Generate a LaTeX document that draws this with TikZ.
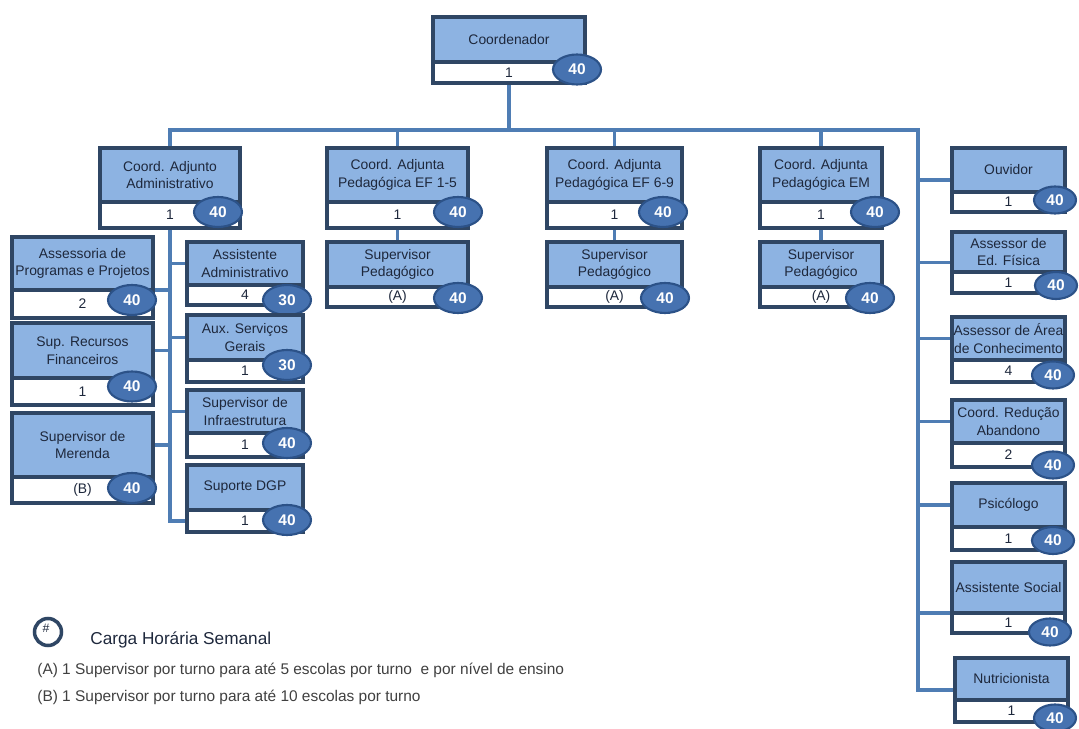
\documentclass[tikz,border=0pt]{standalone}
\usepackage{fontspec}
\setmainfont{Liberation Sans}
\usepackage{xcolor}
\usetikzlibrary{positioning,calc,backgrounds,shapes.geometric}

\definecolor{caixa}{RGB}{141,179,226}
\definecolor{borda}{RGB}{47,70,100}
\definecolor{ligacao}{RGB}{79,125,180}
\definecolor{oval}{RGB}{70,114,176}
\definecolor{ovalborda}{RGB}{44,82,136}
\definecolor{tinta}{RGB}{30,40,60}

\newcommand{\pxu}{0.02cm}

\tikzset{
	cabeca/.style={draw=borda, line width=2pt, fill=caixa, text=tinta, align=center, inner sep=0pt, outer sep=0pt, font=\fontsize{7.9}{10}\selectfont},
	rodape/.style={draw=borda, line width=2pt, fill=white, text=tinta, inner sep=0pt, outer sep=0pt, font=\fontsize{7.9}{9}\selectfont},
	horas/.style={ellipse, draw=ovalborda, line width=1.2pt, fill=oval, text=white, inner sep=0pt, minimum width=48*\pxu, minimum height=30*\pxu, font=\bfseries\fontsize{8.8}{9}\selectfont},
	menor/.style={minimum width=42*\pxu, minimum height=27*\pxu},
	linha/.style={draw=ligacao, line width=2.2pt},
	nota/.style={anchor=west, text=black!75, inner sep=0pt, font=\fontsize{8.8}{10}\selectfont}
}

% cargo: [opcoes do oval]{nome}{canto}{largura}{alt. topo}{alt. base}{titulo}{qtd}{horas}
\newcommand{\cargo}[9][shift={(-15,0)}]{%
	\node[cabeca, minimum width=#4*\pxu, minimum height=#5*\pxu, anchor=north west] (#2) at (#3) {#7};
	\node[rodape, minimum width=#4*\pxu, minimum height=#6*\pxu, anchor=north] (#2-n) at (#2.south) {#8};
	\node[horas, #1] (#2-h) at (#2-n.east) {#9};
	\coordinate (#2-w) at ($(#2.north west)!.5!(#2-n.south west)$);
}

\begin{document}
\begin{tikzpicture}[x=0.02cm, y=-0.02cm]
	\useasboundingbox (0,0) rectangle (1079,729);

	% topo
	\cargo[shift={(-8,-3)}]{coord}{433,17}{152}{45}{21}{Coordenador}{1}{40}
	\cargo[shift={(-22,-3)}]{admin}{100,148}{140}{54}{26}{Coord. Adjunto\\Administrativo}{1}{40}
	\cargo[shift={(-10,-3)}]{ef15}{327,148}{141}{54}{26}{Coord. Adjunta\\Pedagógica EF 1-5}{1}{40}
	\cargo[shift={(-19,-3)}]{ef69}{547,148}{135}{54}{26}{Coord. Adjunta\\Pedagógica EF 6-9}{1}{40}
	\cargo[shift={(-7,-3)}]{em}{760,148}{122}{54}{26}{Coord. Adjunta\\Pedagógica EM}{1}{40}
	\cargo[shift={(-10,1)}]{sup15}{327,242}{141}{45}{20}{Supervisor\\Pedagógico}{(A)}{40}
	\cargo[shift={(-17,1)}]{sup69}{547,242}{135}{45}{20}{Supervisor\\Pedagógico}{(A)}{40}
	\cargo[shift={(-12,1)}]{supem}{760,242}{122}{45}{20}{Supervisor\\Pedagógico}{(A)}{40}

	% coluna administrativa
	\cargo[shift={(-21,-4)}]{assess}{12,237}{141}{53}{28}{Assessoria de\\Programas e Projetos}{2}{40}
	\cargo[shift={(-21,-5)}]{recfin}{12,323}{141}{55}{27}{Sup. Recursos\\Financeiros}{1}{40}
	\cargo[shift={(-21,-2)}]{merenda}{12,413}{141}{64}{26}{Supervisor de\\Merenda}{(B)}{40}
	\cargo[shift={(-16,5)}]{assadm}{187,242}{116}{43}{20}{Assistente\\Administrativo}{4}{30}
	\cargo[shift={(-16,-6)}]{aux}{187,315}{116}{45}{22}{Aux. Serviços\\Gerais}{1}{30}
	\cargo[shift={(-16,-2)}]{infra}{187,390}{116}{43}{24}{Supervisor de\\Infraestrutura}{1}{40}
	\cargo[shift={(-16,-1)}]{dgp}{187,465}{116}{45}{22}{Suporte DGP}{1}{40}

	% coluna da direita
	\cargo[shift={(-10,-2)},menor]{ouvidor}{952,148}{113}{44}{20}{Ouvidor}{1}{40}
	\cargo[shift={(-9,3)},menor]{edfis}{952,232}{113}{40}{21}{Assessor de\\Ed. Física}{1}{40}
	\cargo[shift={(-12,4)},menor]{area}{952,317}{113}{43}{22}{Assessor de Área\\de Conhecimento}{4}{40}
	\cargo[shift={(-12,10)},menor]{reducao}{952,400}{113}{43}{24}{Coord. Redução\\Abandono}{2}{40}
	\cargo[shift={(-12,2)},menor]{psico}{952,483}{113}{44}{23}{Psicólogo}{1}{40}
	\cargo[shift={(-15,9)},menor]{social}{952,562}{113}{51}{20}{Assistente Social}{1}{40}
	\cargo[shift={(-13,7)},menor]{nutri}{955,658}{113}{42}{22}{Nutricionista}{1}{40}

	% ligacoes
	\begin{pgfonlayer}{background}
		\coordinate (barra) at (918,130);
		\draw[linha] (coord-n.south) -- (coord-n.south |- barra);
		\draw[linha] (admin.north) |- (barra) |- (nutri-w);
		\foreach \c in {ef15,ef69,em}
			\draw[linha] (\c.north) -- (\c.north |- barra);
		\foreach \c/\s in {ef15/sup15,ef69/sup69,em/supem}
			\draw[linha] (\c-n.south) -- (\s.north);
		\draw[linha] (admin-n.south) |- (dgp-n.west);
		\foreach \c in {assess.south east,recfin.east,merenda.east,assadm.west,aux.west,infra.west}
			\draw[linha] (\c) -- (\c -| admin-n.south);
		\foreach \c in {ouvidor-w,edfis-w,area.west,reducao.west,psico.west,social.south west}
			\draw[linha] (\c) -- (\c -| barra);
	\end{pgfonlayer}

	% legenda
	\node[circle, draw=borda, line width=2pt, fill=white, minimum size=27*\pxu, inner sep=0pt] (marca) at (48,632) {};
	\node[text=tinta, inner sep=0pt, font=\fontsize{7}{7}\selectfont] (marca-t) at ([shift={(-2,-4)}]marca.center) {\#};
	\node[anchor=west, text=tinta, inner sep=0pt, font=\fontsize{9.8}{11}\selectfont] (titulo) at (90,640) {Carga Horária Semanal};
	\node[nota] (notaA) at (37,670) {(A) 1 Supervisor por turno para até 5 escolas por turno\ \ e por nível de ensino};
	\node[nota] (notaB) at (37,697) {(B) 1 Supervisor por turno para até 10 escolas por turno};
\end{tikzpicture}
\end{document}
